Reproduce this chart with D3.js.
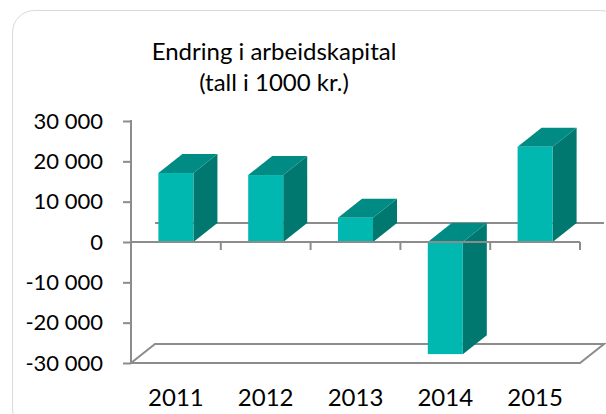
<!DOCTYPE html>
<html>
<head>
<meta charset="utf-8">
<script src="https://cdn.jsdelivr.net/npm/d3@7"></script>
<style>
  body { margin: 0; background: #fff; }
  svg text { font-family: Lato, "Open Sans", sans-serif; fill: #000; }
</style>
</head>
<body>
<svg id="chart" width="606" height="414"></svg>
<script>
// chart data
var years = ['2011', '2012', '2013', '2014', '2015'];
var values = [17100, 16600, 6000, -27800, 23600];
var yTicks = [30000, 20000, 10000, 0, -10000, -20000, -30000];
var titleLines = ['Endring i arbeidskapital', '(tall i 1000 kr.)'];

drawChart();

function drawChart() {
    var svg = d3.select('#chart'),
        dx = 24, dy = -19, // 3d depth offset
        axisColor = '#8c8c8c',
        frontColor = '#00b8b0', topColor = '#008c84', sideColor = '#007870';

    // frame
    svg.append('rect')
        .attr('x', 12.5).attr('y', 10.5)
        .attr('width', 610).attr('height', 420)
        .attr('rx', 22)
        .attr('fill', 'none')
        .attr('stroke', '#d9d9d9');

    var title = svg.append('text')
        .attr('text-anchor', 'middle')
        .style('font-size', '24px');
    title.selectAll('tspan').data(titleLines).enter()
        .append('tspan')
        .attr('x', 274)
        .attr('y', function (d, i) { return 60 + i * 31; })
        .text(function (d) { return d; });

    var y = d3.scaleLinear().domain([-30000, 30000]).range([363, 121]);
    var x = d3.scaleBand().domain(years).range([131, 580]);
    var barW = x.bandwidth() * 0.39;

    var x0 = x.range()[0], x1 = x.range()[1];

    // back zero line (on back wall)
    svg.append('line')
        .attr('x1', x0 + dx).attr('y1', y(0) + dy)
        .attr('x2', x1 + dx).attr('y2', y(0) + dy)
        .attr('stroke', axisColor).attr('stroke-width', 2);

    // floor
    var fy = y(-30000);
    svg.append('polygon')
        .attr('points', [[x0, fy], [x1, fy], [x1 + dx, fy + dy], [x0 + dx, fy + dy]].join(' '))
        .attr('fill', 'none')
        .attr('stroke', axisColor).attr('stroke-width', 2);

    // bars
    svg.selectAll('.bar').data(values).enter()
        .append('g').attr('class', 'bar')
        .each(function (v, i) {
            var g = d3.select(this),
                bx = x(years[i]) + (x.bandwidth() - barW) / 2,
                yt = y(Math.max(v, 0)),
                yb = y(Math.min(v, 0));
            // side face
            g.append('polygon')
                .attr('points', [[bx + barW, yt], [bx + barW + dx, yt + dy], [bx + barW + dx, yb + dy], [bx + barW, yb]].join(' '))
                .attr('fill', sideColor);
            // top face
            g.append('polygon')
                .attr('points', [[bx, yt], [bx + dx, yt + dy], [bx + barW + dx, yt + dy], [bx + barW, yt]].join(' '))
                .attr('fill', topColor);
            // front face
            g.append('rect')
                .attr('x', bx).attr('y', yt)
                .attr('width', barW).attr('height', yb - yt)
                .attr('fill', frontColor);
        });

    // front zero line with category ticks
    svg.append('line')
        .attr('x1', x0).attr('y1', y(0))
        .attr('x2', x1).attr('y2', y(0))
        .attr('stroke', axisColor).attr('stroke-width', 2);

    svg.selectAll('.xtick').data(years).enter()
        .append('line')
        .attr('x1', function (d) { return x(d) + x.bandwidth(); })
        .attr('x2', function (d) { return x(d) + x.bandwidth(); })
        .attr('y1', y(0)).attr('y2', y(0) + 8)
        .attr('stroke', axisColor).attr('stroke-width', 2);

    svg.selectAll('.xlabel').data(years).enter()
        .append('text')
        .attr('x', function (d) { return x(d) + x.bandwidth() / 2; })
        .attr('y', 406)
        .attr('text-anchor', 'middle')
        .style('font-size', '24px')
        .text(function (d) { return d; });

    // value axis
    var yAxis = d3.axisLeft(y)
        .tickValues(yTicks)
        .tickSize(8)
        .tickPadding(20)
        .tickFormat(function (d) { return d3.format(',')(d).replace(/,/g, ' ').replace('−', '-'); });

    var ag = svg.append('g')
        .attr('transform', 'translate(' + x0 + ',0)')
        .call(yAxis);
    ag.select('.domain').remove();
    ag.selectAll('.tick line').attr('stroke', axisColor).attr('stroke-width', 2);
    ag.selectAll('.tick text')
        .style('font-size', '22px')
        .style('font-family', 'Lato, sans-serif')
        .attr('fill', '#000');
    svg.append('line')
        .attr('x1', x0).attr('y1', y(30000) - 1)
        .attr('x2', x0).attr('y2', y(-30000) + 1)
        .attr('stroke', axisColor).attr('stroke-width', 2);
}
</script>
</body>
</html>
